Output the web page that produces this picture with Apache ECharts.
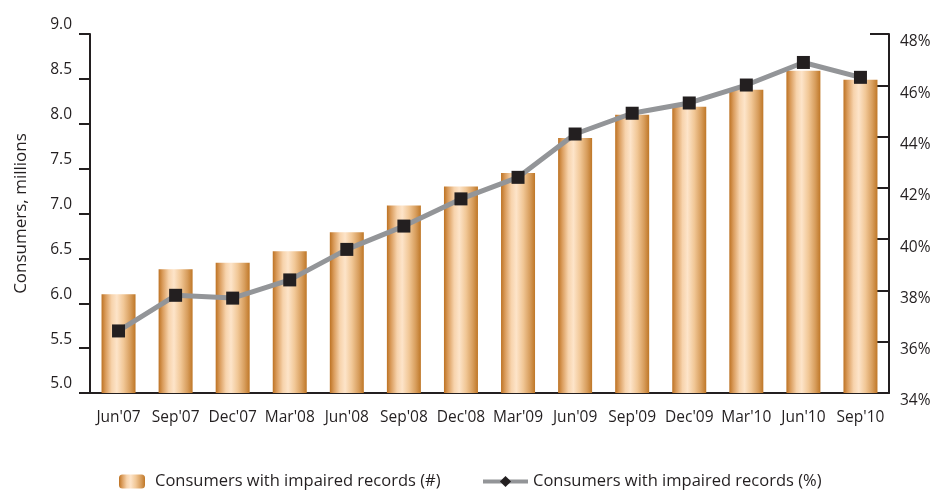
<!DOCTYPE html>
<html>
<head>
<meta charset="utf-8">
<script src="https://cdn.jsdelivr.net/npm/echarts@6/dist/echarts.min.js"></script>
<style>
  html, body { margin: 0; padding: 0; background: #fff; }
  #chart { width: 936px; height: 491px; }
</style>
</head>
<body>
<div id="chart"></div>
<script>
// Quarterly consumers with impaired credit records
const quarters = ["Jun'07", "Sep'07", "Dec'07", "Mar'08", "Jun'08", "Sep'08", "Dec'08",
                  "Mar'09", "Jun'09", "Sep'09", "Dec'09", "Mar'10", "Jun'10", "Sep'10"];
// Number of consumers, millions
const impairedCount = [6.10, 6.38, 6.45, 6.58, 6.79, 7.09, 7.30, 7.45, 7.84, 8.10, 8.19, 8.38, 8.59, 8.49];
// Share of consumers, percent
const impairedShare = [36.42, 37.81, 37.70, 38.41, 39.60, 40.51, 41.57, 42.41, 44.10, 44.91, 45.31, 46.01, 46.89, 46.31];

const countName = 'Consumers with impaired records (#)';
const shareName = 'Consumers with impaired records (%)';

const ink = '#231f20';
const lineGrey = '#939598';
const font = '"Open Sans", "Noto Sans", sans-serif';

// Cylinder-like shading across each bar
const barFill = new echarts.graphic.LinearGradient(0, 0, 1, 0, [
  { offset: 0.00, color: '#bd7223' },
  { offset: 0.12, color: '#da9c5c' },
  { offset: 0.30, color: '#f7d3ac' },
  { offset: 0.45, color: '#fde4c9' },
  { offset: 0.65, color: '#f1c796' },
  { offset: 0.85, color: '#d79d5c' },
  { offset: 1.00, color: '#bf7727' }
]);

const chart = echarts.init(document.getElementById('chart'), null, { renderer: 'canvas' });

chart.setOption({
  animation: false,
  textStyle: { fontFamily: font, color: ink },
  grid: { left: 90, right: 47, top: 34, bottom: 98 },
  legend: [
    {
      data: [countName],
      left: 119, top: 473, padding: 0,
      itemWidth: 26, itemHeight: 14,
      textStyle: { fontFamily: font, fontSize: 16.5, color: ink, padding: [0, 0, 0, 5] }
    },
    {
      data: [shareName],
      left: 481, top: 473, padding: 0,
      itemWidth: 45, itemHeight: 14,
      textStyle: { fontFamily: font, fontSize: 16.5, color: ink },
      lineStyle: { width: 4 }
    }
  ],
  xAxis: {
    type: 'category',
    data: quarters,
    axisLine: { lineStyle: { color: ink, width: 2 } },
    axisTick: { show: false },
    axisLabel: { color: ink, fontFamily: font, fontSize: 15.5, margin: 17, interval: 0 }
  },
  yAxis: [
    {
      type: 'value',
      min: 5, max: 9, interval: 0.5,
      name: 'Consumers, millions',
      nameLocation: 'middle',
      nameRotate: 90,
      nameGap: 60,
      nameTextStyle: { fontFamily: font, fontSize: 17, color: ink },
      axisLine: { show: true, lineStyle: { color: ink, width: 2 } },
      axisTick: { show: true, length: 11, lineStyle: { color: ink, width: 2 } },
      splitLine: { show: false },
      axisLabel: {
        color: ink, fontFamily: font, fontSize: 15.5, margin: 18,
        verticalAlign: 'bottom', padding: [0, 0, 1, 0],
        formatter: v => v.toFixed(1)
      }
    },
    {
      type: 'value',
      min: 34, max: 48, interval: 2,
      position: 'right',
      axisLine: { show: true, lineStyle: { color: ink, width: 2 } },
      axisTick: { show: true, inside: true, length: 19, lineStyle: { color: ink, width: 2 } },
      splitLine: { show: false },
      axisLabel: {
        color: ink, fontFamily: font, fontSize: 15.5, margin: 11,
        verticalAlign: 'top',
        formatter: '{value}%'
      }
    }
  ],
  series: [
    {
      // legend key for the share line: grey stroke with a diamond
      name: shareName,
      type: 'line',
      yAxisIndex: 1,
      data: [],
      symbol: 'diamond',
      lineStyle: { color: lineGrey, width: 4 },
      itemStyle: { color: ink }
    },
    {
      name: countName,
      type: 'bar',
      yAxisIndex: 0,
      data: impairedCount,
      barWidth: 34,
      itemStyle: { color: barFill }
    },
    {
      name: shareName,
      type: 'line',
      yAxisIndex: 1,
      data: impairedShare,
      symbol: 'rect',
      symbolSize: 13,
      lineStyle: { color: lineGrey, width: 5 },
      itemStyle: { color: ink },
      z: 5
    }
  ]
});
</script>
</body>
</html>
